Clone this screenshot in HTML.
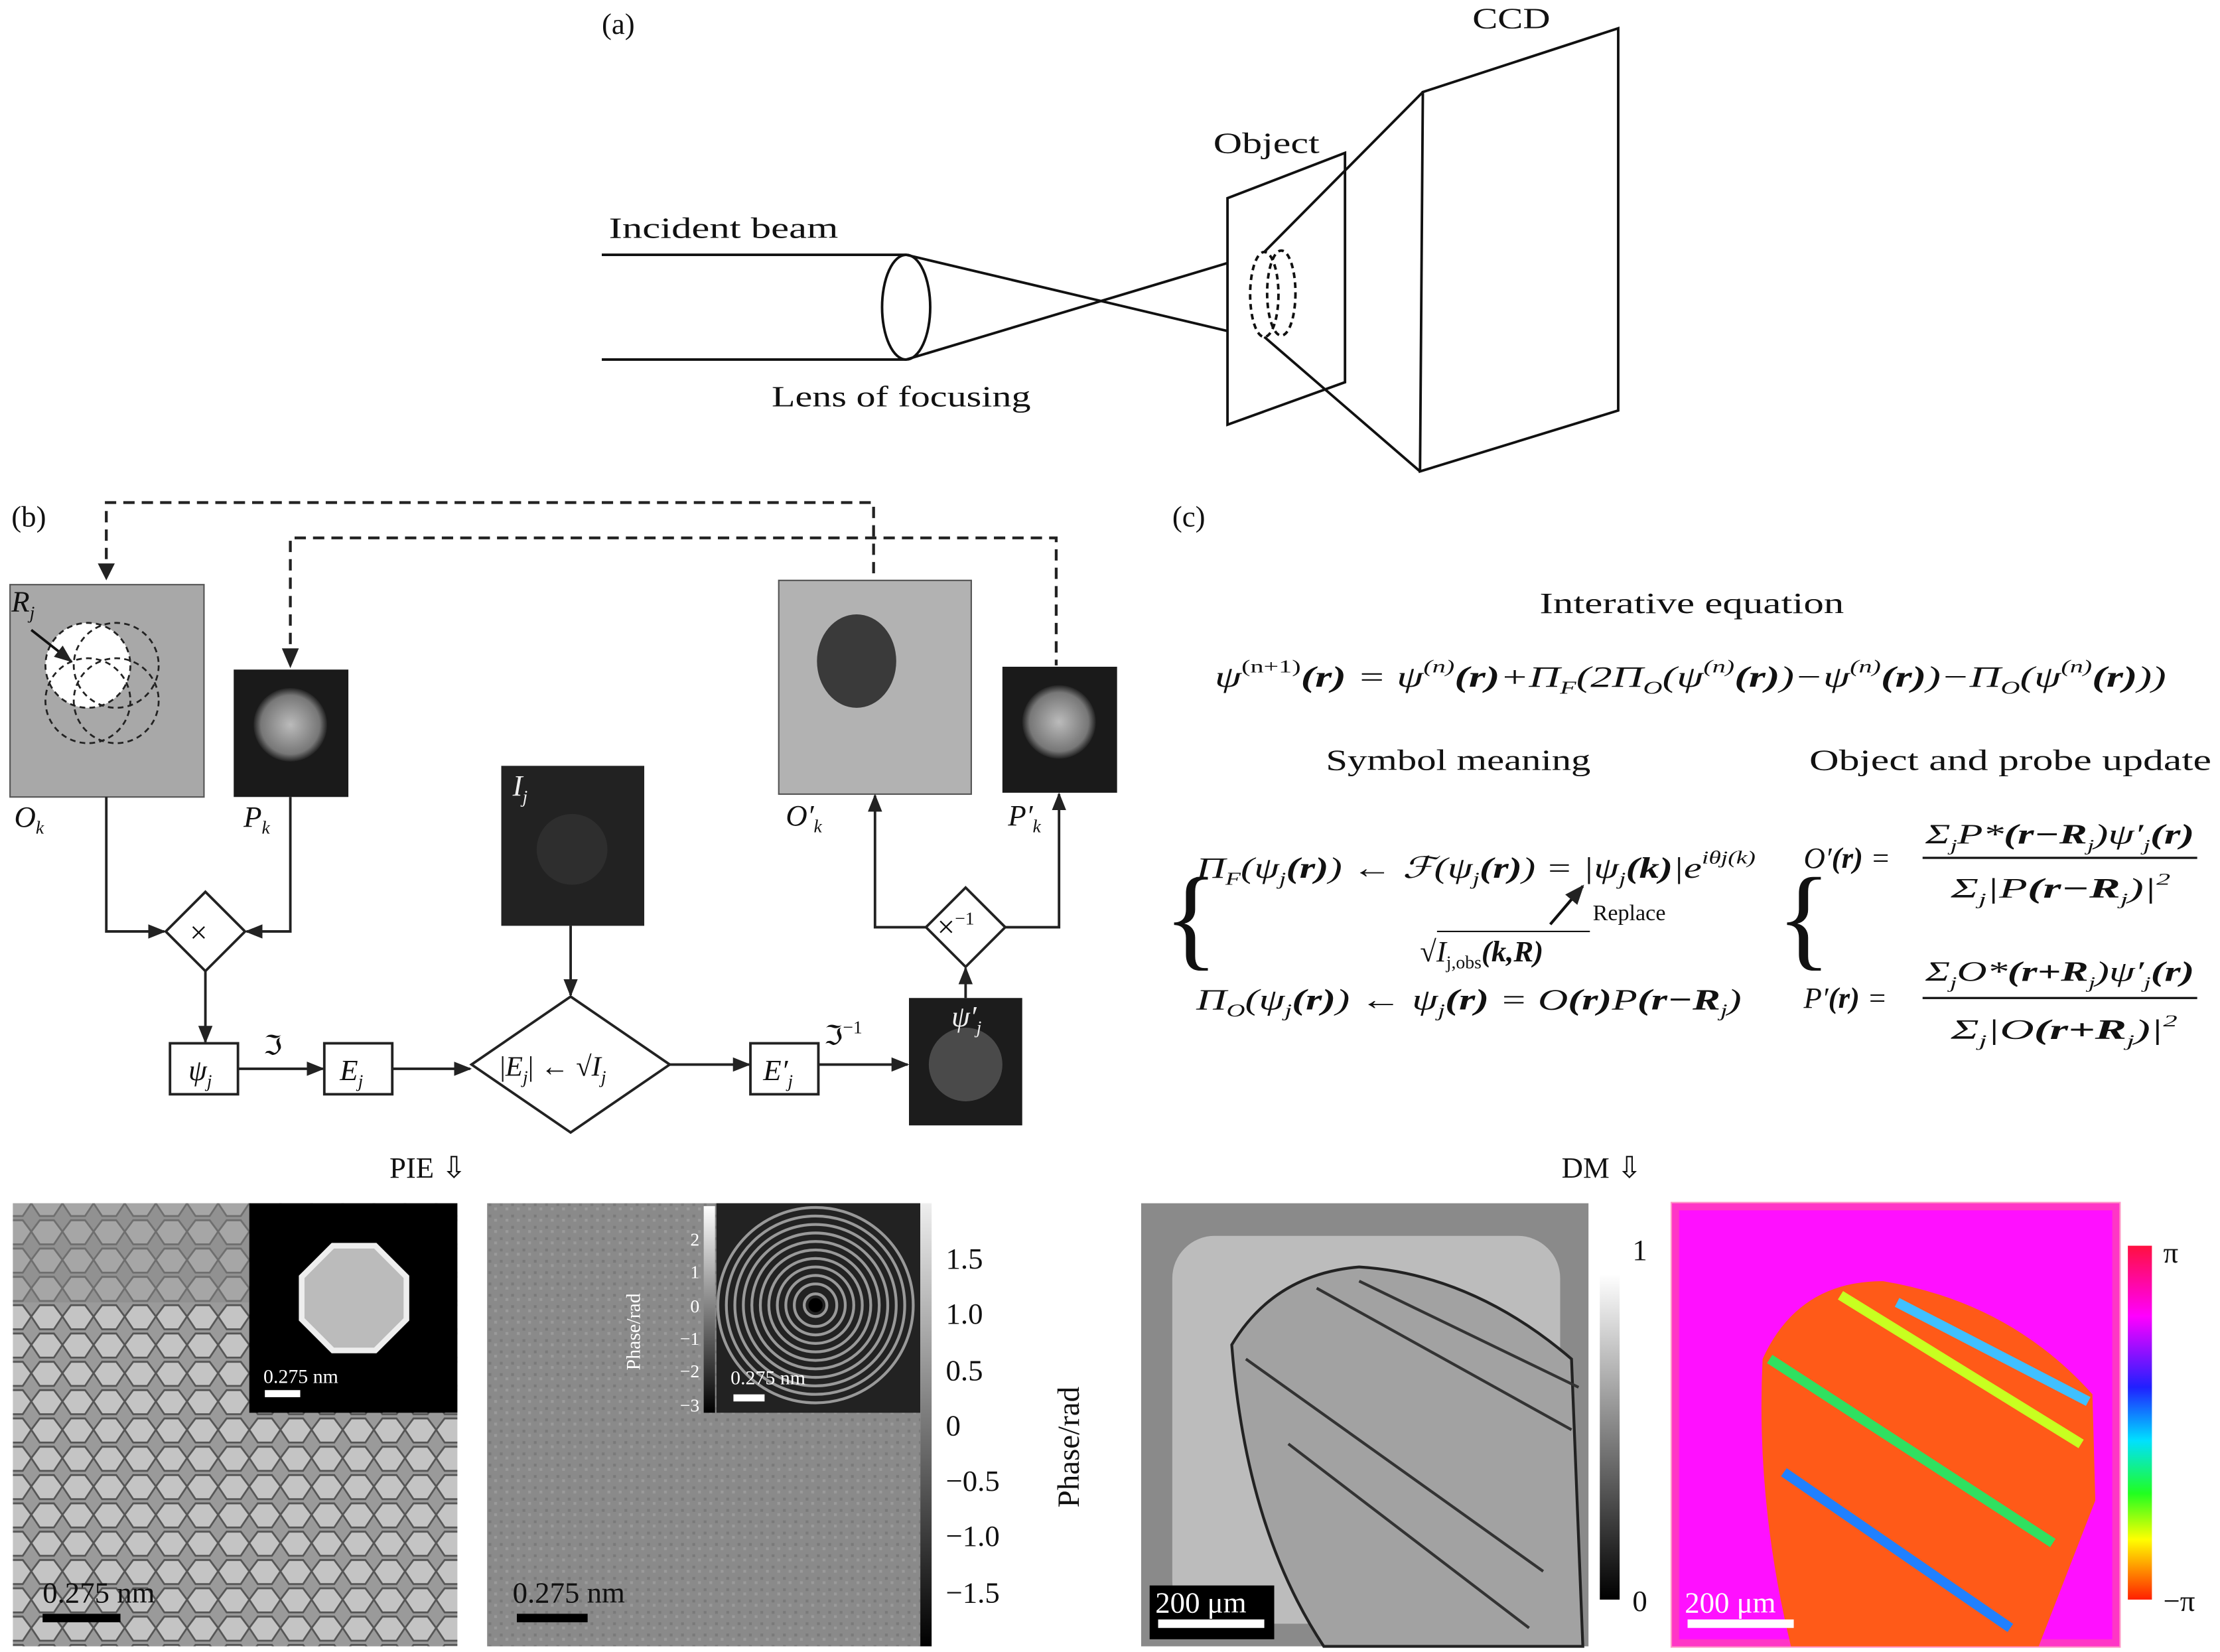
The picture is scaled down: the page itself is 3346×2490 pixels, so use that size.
<!DOCTYPE html>
<html><head><meta charset="utf-8"><style>
html,body{margin:0;padding:0;background:#fff}
svg{display:block}
text{font-family:"Liberation Serif",serif;fill:#111}
.i{font-style:italic}
</style></head><body>
<svg width="3346" height="2490" viewBox="0 0 1568 1167" xmlns="http://www.w3.org/2000/svg">
<defs>
<marker id="ar" viewBox="0 0 10 10" refX="9" refY="5" markerWidth="7" markerHeight="7" orient="auto"><path d="M0,1 L10,5 L0,9 z" fill="#222"/></marker>
<pattern id="cells" width="22" height="20" patternUnits="userSpaceOnUse"><rect width="22" height="20" fill="#9a9a9a"/><path d="M0,10 L6,2 L16,2 L22,10 L16,19 L6,19 Z" fill="#c4c4c4" stroke="#555" stroke-width="1.3"/></pattern>
<pattern id="noise" width="8" height="8" patternUnits="userSpaceOnUse"><rect width="8" height="8" fill="#8a8a8a"/><rect x="1" y="2" width="2" height="2" fill="#7a7a7a"/><rect x="5" y="5" width="2" height="2" fill="#9a9a9a"/></pattern>
<linearGradient id="gbar" x1="0" y1="0" x2="0" y2="1"><stop offset="0" stop-color="#fff"/><stop offset="1" stop-color="#000"/></linearGradient>
<linearGradient id="gbar2" x1="0" y1="0" x2="0" y2="1"><stop offset="0" stop-color="#eee"/><stop offset="1" stop-color="#000"/></linearGradient>
<linearGradient id="rbar" x1="0" y1="0" x2="0" y2="1"><stop offset="0" stop-color="#ff1040"/><stop offset=".2" stop-color="#ff00ff"/><stop offset=".4" stop-color="#2020ff"/><stop offset=".55" stop-color="#00e0ff"/><stop offset=".7" stop-color="#20ff20"/><stop offset=".83" stop-color="#ffff00"/><stop offset="1" stop-color="#ff2000"/></linearGradient>
<radialGradient id="probe"><stop offset="0" stop-color="#bbb"/><stop offset=".8" stop-color="#777"/><stop offset="1" stop-color="#222"/></radialGradient>
</defs>

<!-- (a) -->
<text x="425" y="24" font-size="21">(a)</text>
<text x="1040" y="20" font-size="21" textLength="55" lengthAdjust="spacingAndGlyphs">CCD</text>
<text x="857" y="108" font-size="21" textLength="75" lengthAdjust="spacingAndGlyphs">Object</text>
<text x="430" y="168" font-size="21" textLength="162" lengthAdjust="spacingAndGlyphs">Incident beam</text>
<text x="545" y="287" font-size="21" textLength="183" lengthAdjust="spacingAndGlyphs">Lens of focusing</text>
<g stroke="#111" stroke-width="1.8" fill="none">
<line x1="425" y1="180" x2="640" y2="180"/><line x1="425" y1="254" x2="640" y2="254"/>
<ellipse cx="640" cy="217" rx="17" ry="37"/>
<line x1="640" y1="180" x2="893" y2="240"/><line x1="640" y1="254" x2="893" y2="178"/>
<polygon points="867,140 950,108 950,270 867,300" fill="#fff"/>
<ellipse cx="893" cy="208" rx="10" ry="30" stroke-dasharray="4,3"/>
<ellipse cx="905" cy="207" rx="10" ry="30" stroke-dasharray="4,3"/>
<polygon points="1005,65 1143,20 1143,290 1003,333" fill="#fff"/>
<line x1="893" y1="178" x2="1005" y2="65"/><line x1="893" y1="238" x2="1003" y2="333"/>
</g>

<!-- (b) -->
<text x="8" y="372" font-size="21">(b)</text>
<g stroke="#222" stroke-width="2" fill="none" stroke-dasharray="8,5">
<path d="M75,408 V355 H617 V410"/>
<path d="M205,468 V380 H746 V470"/>
</g>
<polygon points="69,398 81,398 75,410" fill="#222"/>
<polygon points="199,458 211,458 205,472" fill="#222"/>
<rect x="7" y="413" width="137" height="150" fill="#a8a8a8" stroke="#555"/>
<circle cx="62" cy="470" r="30" fill="#fff"/>
<g fill="none" stroke="#222" stroke-width="1.3" stroke-dasharray="4,3"><circle cx="82" cy="470" r="30"/><circle cx="62" cy="495" r="30"/><circle cx="82" cy="495" r="30"/><circle cx="62" cy="470" r="30"/></g>
<line x1="22" y1="445" x2="50" y2="467" stroke="#111" stroke-width="1.8" marker-end="url(#ar)"/>
<text x="8" y="432" font-size="21" class="i">R<tspan font-size="13" dy="5">j</tspan></text>
<rect x="165" y="473" width="81" height="90" fill="#1a1a1a"/><circle cx="205" cy="512" r="26" fill="url(#probe)"/>
<rect x="550" y="410" width="136" height="151" fill="#b2b2b2" stroke="#555"/><ellipse cx="605" cy="467" rx="28" ry="33" fill="#3a3a3a"/>
<rect x="708" y="471" width="81" height="89" fill="#1a1a1a"/><circle cx="748" cy="510" r="26" fill="url(#probe)"/>
<rect x="354" y="541" width="101" height="113" fill="#222"/><circle cx="404" cy="600" r="25" fill="#2e2e2e"/>
<rect x="642" y="705" width="80" height="90" fill="#1c1c1c"/><circle cx="682" cy="752" r="26" fill="#4a4a4a"/>
<text x="10" y="584" font-size="21" class="i">O<tspan font-size="13" dy="5">k</tspan></text>
<text x="172" y="584" font-size="21" class="i">P<tspan font-size="13" dy="5">k</tspan></text>
<text x="555" y="583" font-size="21" class="i">O′<tspan font-size="13" dy="5">k</tspan></text>
<text x="712" y="583" font-size="21" class="i">P′<tspan font-size="13" dy="5">k</tspan></text>
<text x="362" y="562" font-size="21" class="i" style="fill:#eee">I<tspan font-size="13" dy="5">j</tspan></text>
<text x="672" y="725" font-size="21" class="i" style="fill:#eee">ψ′<tspan font-size="13" dy="5">j</tspan></text>
<g stroke="#222" stroke-width="1.8" fill="none">
<polygon points="145,630 173,658 145,686 117,658" fill="#fff"/>
<polygon points="682,627 710,655 682,683 654,655" fill="#fff"/>
<polygon points="403,704 473,752 403,800 333,752" fill="#fff"/>
<rect x="120" y="737" width="48" height="36" fill="#fff"/><rect x="229" y="737" width="48" height="36" fill="#fff"/><rect x="530" y="737" width="48" height="36" fill="#fff"/>
<path d="M75,563 V658 H116" marker-end="url(#ar)"/><path d="M205,563 V658 H174" marker-end="url(#ar)"/>
<path d="M145,686 V736" marker-end="url(#ar)"/>
<path d="M168,755 H228" marker-end="url(#ar)"/><path d="M277,755 H332" marker-end="url(#ar)"/>
<path d="M473,752 H529" marker-end="url(#ar)"/><path d="M578,752 H641" marker-end="url(#ar)"/>
<path d="M403,654 V703" marker-end="url(#ar)"/><path d="M682,705 V684" marker-end="url(#ar)"/>
<path d="M654,655 H618 V562" marker-end="url(#ar)"/><path d="M710,655 H748 V561" marker-end="url(#ar)"/>
</g>
<text x="134" y="666" font-size="22">×</text>
<text x="662" y="662" font-size="22">×<tspan font-size="13" dy="-9">−1</tspan></text>
<text x="133" y="763" font-size="21" class="i">ψ<tspan font-size="13" dy="5">j</tspan></text>
<text x="240" y="763" font-size="21" class="i">E<tspan font-size="13" dy="5">j</tspan></text>
<text x="539" y="763" font-size="21" class="i">E′<tspan font-size="13" dy="5">j</tspan></text>
<text x="186" y="745" font-size="19">ℑ</text>
<text x="582" y="738" font-size="19">ℑ<tspan font-size="13" dy="-8">−1</tspan></text>
<text x="353" y="760" font-size="20">|<tspan class="i">E</tspan><tspan font-size="13" dy="5" class="i">j</tspan><tspan dy="-5">| ← √</tspan><tspan class="i">I</tspan><tspan font-size="13" dy="5" class="i">j</tspan></text>

<!-- (c) -->
<text x="828" y="372" font-size="21">(c)</text>
<text x="1195" y="433" font-size="21" text-anchor="middle" textLength="215" lengthAdjust="spacingAndGlyphs">Interative equation</text>
<text x="858" y="485" font-size="21" class="i" textLength="672" lengthAdjust="spacingAndGlyphs">ψ<tspan font-size="13" dy="-10" font-style="normal">(n+1)</tspan><tspan dy="10" font-weight="bold">(r)</tspan> = ψ<tspan font-size="13" dy="-10">(n)</tspan><tspan dy="10" font-weight="bold">(r)</tspan>+Π<tspan font-size="13" dy="5">F</tspan><tspan dy="-5">(2Π</tspan><tspan font-size="13" dy="5">O</tspan><tspan dy="-5">(ψ</tspan><tspan font-size="13" dy="-10">(n)</tspan><tspan dy="10" font-weight="bold">(r)</tspan>)−ψ<tspan font-size="13" dy="-10">(n)</tspan><tspan dy="10" font-weight="bold">(r)</tspan>)−Π<tspan font-size="13" dy="5">O</tspan><tspan dy="-5">(ψ</tspan><tspan font-size="13" dy="-10">(n)</tspan><tspan dy="10" font-weight="bold">(r)</tspan>))</text>
<text x="1030" y="544" font-size="21" text-anchor="middle" textLength="187" lengthAdjust="spacingAndGlyphs">Symbol meaning</text>
<text x="1420" y="544" font-size="21" text-anchor="middle" textLength="284" lengthAdjust="spacingAndGlyphs">Object and probe update</text>
<text x="822" y="675" font-size="80" font-weight="100" transform="scale(1,1)">{</text>
<text x="1255" y="675" font-size="80" font-weight="100">{</text>
<text x="845" y="620" font-size="21" class="i" textLength="395" lengthAdjust="spacingAndGlyphs">Π<tspan font-size="13" dy="5">F</tspan><tspan dy="-5">(ψ</tspan><tspan font-size="13" dy="5">j</tspan><tspan dy="-5" font-weight="bold">(r)</tspan>) ← ℱ(ψ<tspan font-size="13" dy="5">j</tspan><tspan dy="-5" font-weight="bold">(r)</tspan>) = |ψ<tspan font-size="13" dy="5">j</tspan><tspan dy="-5" font-weight="bold">(k)</tspan>|e<tspan font-size="13" dy="-10">iθj(k)</tspan></text>
<line x1="1095" y1="653" x2="1118" y2="626" stroke="#111" stroke-width="2" marker-end="url(#ar)"/>
<text x="1125" y="650" font-size="16">Replace</text>
<text x="1003" y="679" font-size="21" class="i">√<tspan>I</tspan><tspan font-size="13" dy="5" font-style="normal">j,obs</tspan><tspan dy="-5" font-weight="bold">(k,R)</tspan></text>
<line x1="1015" y1="658" x2="1123" y2="658" stroke="#111" stroke-width="1"/>
<text x="845" y="713" font-size="21" class="i" textLength="385" lengthAdjust="spacingAndGlyphs">Π<tspan font-size="13" dy="5">O</tspan><tspan dy="-5">(ψ</tspan><tspan font-size="13" dy="5">j</tspan><tspan dy="-5" font-weight="bold">(r)</tspan>) ← ψ<tspan font-size="13" dy="5">j</tspan><tspan dy="-5" font-weight="bold">(r)</tspan> = O<tspan font-weight="bold">(r)</tspan>P<tspan font-weight="bold">(r−R</tspan><tspan font-size="13" dy="5">j</tspan><tspan dy="-5">)</tspan></text>
<text x="1274" y="613" font-size="21" class="i">O′<tspan font-weight="bold">(r)</tspan> =</text>
<line x1="1358" y1="606" x2="1552" y2="606" stroke="#111" stroke-width="1.5"/>
<text x="1360" y="596" font-size="20" class="i" textLength="190" lengthAdjust="spacingAndGlyphs">Σ<tspan font-size="12" dy="5">j</tspan><tspan dy="-5">P*</tspan><tspan font-weight="bold">(r−R</tspan><tspan font-size="12" dy="5">j</tspan><tspan dy="-5">)ψ′</tspan><tspan font-size="12" dy="5">j</tspan><tspan dy="-5" font-weight="bold">(r)</tspan></text>
<text x="1378" y="634" font-size="20" class="i" textLength="155" lengthAdjust="spacingAndGlyphs">Σ<tspan font-size="12" dy="5">j</tspan><tspan dy="-5">|P</tspan><tspan font-weight="bold">(r−R</tspan><tspan font-size="12" dy="5">j</tspan><tspan dy="-5">)|</tspan><tspan font-size="12" dy="-9">2</tspan></text>
<text x="1274" y="712" font-size="21" class="i">P′<tspan font-weight="bold">(r)</tspan> =</text>
<line x1="1358" y1="705" x2="1552" y2="705" stroke="#111" stroke-width="1.5"/>
<text x="1360" y="693" font-size="20" class="i" textLength="190" lengthAdjust="spacingAndGlyphs">Σ<tspan font-size="12" dy="5">j</tspan><tspan dy="-5">O*</tspan><tspan font-weight="bold">(r+R</tspan><tspan font-size="12" dy="5">j</tspan><tspan dy="-5">)ψ′</tspan><tspan font-size="12" dy="5">j</tspan><tspan dy="-5" font-weight="bold">(r)</tspan></text>
<text x="1378" y="734" font-size="20" class="i" textLength="160" lengthAdjust="spacingAndGlyphs">Σ<tspan font-size="12" dy="5">j</tspan><tspan dy="-5">|O</tspan><tspan font-weight="bold">(r+R</tspan><tspan font-size="12" dy="5">j</tspan><tspan dy="-5">)|</tspan><tspan font-size="12" dy="-9">2</tspan></text>

<!-- bottom -->
<text x="275" y="832" font-size="21">PIE ⇩</text>
<text x="1103" y="832" font-size="21">DM ⇩</text>
<rect x="9" y="850" width="314" height="313" fill="url(#cells)"/>
<rect x="9" y="850" width="167" height="70" fill="#888" opacity=".5"/>
<rect x="176" y="850" width="147" height="148" fill="#000"/>
<polygon points="235,880 265,880 287,902 287,932 265,954 235,954 213,932 213,902" fill="#bbb" stroke="#eee" stroke-width="4"/>
<rect x="187" y="982" width="25" height="5" fill="#fff"/>
<text x="186" y="977" font-size="14" style="fill:#fff">0.275 nm</text>
<rect x="30" y="1140" width="55" height="6" fill="#000"/>
<text x="30" y="1132" font-size="21">0.275 nm</text>

<rect x="344" y="850" width="306" height="313" fill="url(#noise)"/>
<rect x="506" y="850" width="144" height="148" fill="#222"/>
<g fill="none" stroke="#999" stroke-width="2">
<circle cx="576" cy="922" r="8"/><circle cx="576" cy="922" r="15"/><circle cx="576" cy="922" r="21"/><circle cx="576" cy="922" r="27"/><circle cx="576" cy="922" r="33"/><circle cx="576" cy="922" r="39"/><circle cx="576" cy="922" r="45"/><circle cx="576" cy="922" r="51"/><circle cx="576" cy="922" r="57"/><circle cx="576" cy="922" r="63"/><circle cx="576" cy="922" r="69"/></g>
<circle cx="576" cy="922" r="5" fill="#000"/>
<rect x="497" y="852" width="8" height="146" fill="url(#gbar)"/>
<g font-size="13" text-anchor="end"><text x="494" y="880" style="fill:#fff">2</text><text x="494" y="903" style="fill:#fff">1</text><text x="494" y="927" style="fill:#fff">0</text><text x="494" y="950" style="fill:#fff">−1</text><text x="494" y="973" style="fill:#fff">−2</text><text x="494" y="997" style="fill:#fff">−3</text></g>
<text transform="translate(452,968) rotate(-90)" font-size="14" style="fill:#fff">Phase/rad</text>
<rect x="518" y="985" width="22" height="5" fill="#fff"/>
<text x="516" y="978" font-size="14" style="fill:#fff">0.275 nm</text>
<rect x="365" y="1140" width="50" height="6" fill="#000"/>
<text x="362" y="1132" font-size="21">0.275 nm</text>
<rect x="650" y="850" width="8" height="313" fill="url(#gbar2)"/>
<g font-size="21"><text x="668" y="896">1.5</text><text x="668" y="935">1.0</text><text x="668" y="975">0.5</text><text x="668" y="1014">0</text><text x="668" y="1053">−0.5</text><text x="668" y="1092">−1.0</text><text x="668" y="1132">−1.5</text></g>
<text transform="translate(762,1065) rotate(-90)" font-size="22">Phase/rad</text>

<rect x="806" y="850" width="316" height="313" fill="#8a8a8a"/>
<rect x="828" y="873" width="274" height="274" rx="30" fill="#bcbcbc"/>
<path d="M870,950 Q900,900 960,895 Q1040,900 1110,960 L1118,1163 L935,1163 Q880,1080 870,950 Z" fill="#a2a2a2" stroke="#222" stroke-width="2"/>
<g stroke="#333" stroke-width="2" fill="none"><path d="M880,960 L1090,1110"/><path d="M910,1020 L1080,1150"/><path d="M930,910 L1110,1010"/><path d="M960,905 L1115,980"/></g>
<rect x="812" y="1120" width="88" height="38" fill="#000"/>
<rect x="818" y="1144" width="75" height="6" fill="#fff"/>
<text x="816" y="1139" font-size="21" style="fill:#fff">200 μm</text>
<rect x="1130" y="900" width="14" height="230" fill="url(#gbar)"/>
<text x="1153" y="890" font-size="21">1</text><text x="1153" y="1138" font-size="21">0</text>

<rect x="1181" y="850" width="316" height="313" fill="#ff10ff"/>
<rect x="1183" y="852" width="312" height="309" fill="none" stroke="#ff50a0" stroke-width="6" opacity=".6"/>
<path d="M1245,960 Q1270,905 1330,905 Q1420,920 1478,985 L1480,1060 L1440,1163 L1265,1163 Q1240,1060 1245,960 Z" fill="#ff5a18"/>
<g stroke-width="7" fill="none"><path d="M1300,915 L1470,1020" stroke="#c8ff20"/><path d="M1250,960 L1450,1090" stroke="#30e060"/><path d="M1260,1040 L1420,1150" stroke="#2080ff"/><path d="M1340,920 L1475,990" stroke="#40c0ff"/></g>
<rect x="1192" y="1144" width="75" height="6" fill="#fff"/>
<text x="1190" y="1139" font-size="21" style="fill:#fff">200 μm</text>
<rect x="1503" y="880" width="17" height="250" fill="url(#rbar)"/>
<text x="1528" y="892" font-size="21">π</text><text x="1528" y="1138" font-size="21">−π</text>
</svg>
</body></html>
